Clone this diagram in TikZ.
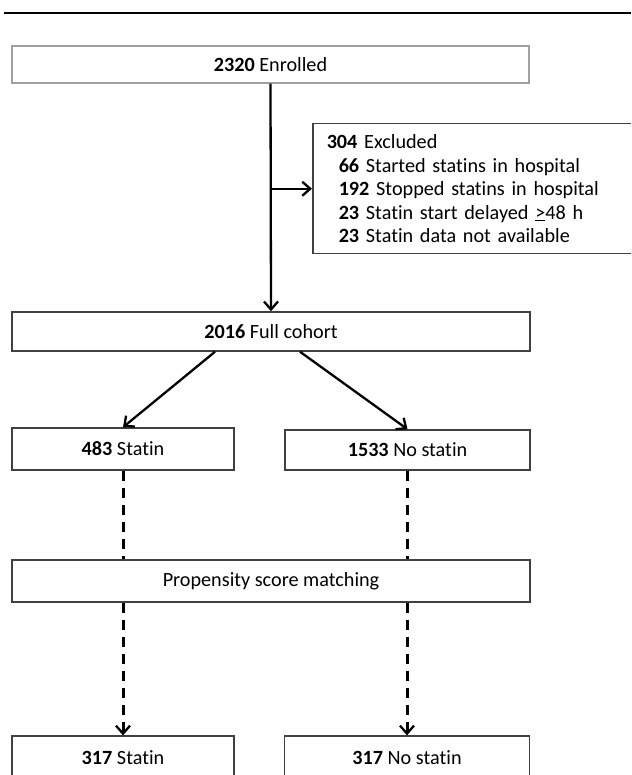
\documentclass[tikz,border=0pt]{standalone}
\usepackage{fontspec}
\setmainfont{Carlito}[Ligatures={NoCommon}]
\usetikzlibrary{arrows.meta,calc}
\definecolor{boxdark}{HTML}{404040}
\definecolor{boxlight}{HTML}{A0A0A0}
\begin{document}
\begin{tikzpicture}[x=1pt,y=-1pt,
  font=\fontsize{20.2}{23.4}\selectfont,
  box/.style={draw=boxdark, line width=1.5pt, inner sep=0pt, align=center},
  arr/.style={line width=2.3pt, -{Straight Barb[length=8pt,width=14pt,line width=2.3pt]}},
  dline/.style={line width=3pt, dash pattern=on 10pt off 7pt},
  darr/.style={dline, -{Straight Barb[length=8pt,width=14pt,line width=2.3pt]}}]
\clip (0,0) rectangle (631,775);
\fill[white] (0,0) rectangle (631,775);
% top rule
\draw[line width=2.5pt] (4,13) -- (631,13);
% boxes
\node[box, draw=boxlight, line width=1.3pt, minimum width=517pt, minimum height=37pt] (enr) at (270.5,64.5) {\textbf{2320} Enrolled};
\node[box, anchor=north west, align=left, minimum width=348pt, minimum height=130pt,
      text width=320pt, inner xsep=14pt, inner ysep=0pt] (excl) at (312,123)
  {\textbf{304} Excluded\\
   \hspace*{12pt}\textbf{66} Started statins in hospital\\
   \hspace*{12pt}\textbf{192} Stopped statins in hospital\\
   \hspace*{12pt}\textbf{23} Statin start delayed \underline{>}48 h\\
   \hspace*{12pt}\textbf{23} Statin data not available};
\node[box, minimum width=518pt, minimum height=39pt] (full) at (271,331.5) {\textbf{2016} Full cohort};
\node[box, minimum width=222pt, minimum height=42pt] (stat) at (123,449) {\textbf{483} Statin};
\node[box, minimum width=245pt, minimum height=40pt] (nostat) at (407.5,450) {\textbf{1533} No statin};
\node[box, minimum width=518pt, minimum height=42pt] (prop) at (271,581) {Propensity score matching};
\node[box, line width=1.2pt, minimum width=222pt, minimum height=44pt] (stat2) at (123,758) {\textbf{317} Statin};
\node[box, line width=1.2pt, minimum width=245pt, minimum height=44pt] (nostat2) at (407,758) {\textbf{317} No statin};
% connectors
\draw[arr] (enr.south) -- (full.north);
\draw[arr] (enr.south |- excl.west) -- (excl.west);
\draw[arr] ([xshift=-56pt]full.south) -- (stat.north);
\draw[arr] ([xshift=29pt]full.south) -- (nostat.north);
\draw[dline] (stat.south) -- (prop.north -| stat.south);
\draw[dline] (nostat.south) -- (prop.north -| nostat.south);
\draw[darr] (prop.south -| stat2.north) -- (stat2.north);
\draw[darr] (prop.south -| nostat2.north) -- (nostat2.north);
\end{tikzpicture}
\end{document}
